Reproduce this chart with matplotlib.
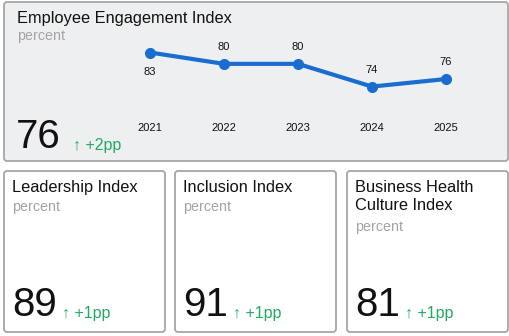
import matplotlib.pyplot as plt
from matplotlib.patches import FancyBboxPatch

plt.rcParams['font.family'] = ['Liberation Sans', 'DejaVu Sans']

# data
years = ['2021', '2022', '2023', '2024', '2025']
engagement = [83, 80, 80, 74, 76]
label_below = [True, False, False, False, False]

main_title = 'Employee Engagement Index'
main_value = '76'
main_delta = '\u2191 +2pp'

card_titles = ['Leadership Index', 'Inclusion Index', 'Business Health\nCulture Index']
card_values = ['89', '91', '81']
card_deltas = ['\u2191 +1pp', '\u2191 +1pp', '\u2191 +1pp']

W, H = 510, 336
fig = plt.figure(figsize=(W / 100, H / 100), dpi=100)
bg = fig.add_axes([0, 0, 1, 1])
bg.set_xlim(0, W)
bg.set_ylim(H, 0)
bg.axis('off')

green = '#22a862'
grey_txt = '#a3a3a3'
border = '#a6a6a6'


def card(x0, y0, x1, y1, fill):
    p = FancyBboxPatch((x0, y0), x1 - x0, y1 - y0,
                       boxstyle='round,pad=0,rounding_size=3',
                       fc=fill, ec=border, lw=1.3)
    bg.add_patch(p)


# top card
card(4, 2, 508, 161, '#eeeff1')
bg.text(17, 18, main_title, fontsize=11.8, va='center', ha='left', color='#111111')
bg.text(17, 36, 'percent', fontsize=10.3, va='center', ha='left', color=grey_txt)
bg.text(16, 148, main_value, fontsize=29, va='baseline', ha='left', color='#111111')
bg.text(73, 150, main_delta, fontsize=11.5, va='baseline', ha='left', color=green)

# line chart inside top card
ax = fig.add_axes([113 / W, 1 - 115 / H, 370 / W, 75 / H])
ax.patch.set_alpha(0)
xs = range(len(years))
ax.plot(xs, engagement, color='#1a6dd0', lw=3, marker='o', ms=7, zorder=3)
for x, v, below in zip(xs, engagement, label_below):
    if below:
        ax.annotate(str(v), (x, v), xytext=(0, -14), textcoords='offset points',
                    ha='center', va='center', fontsize=8, color='#111111')
    else:
        ax.annotate(str(v), (x, v), xytext=(0, 12), textcoords='offset points',
                    ha='center', va='center', fontsize=8, color='#111111')
ax.set_xlim(-0.5, 4.5)
ax.set_ylim(66.5, 86.3)
ax.set_xticks(list(xs))
ax.set_xticklabels(years, fontsize=8, color='#111111')
ax.tick_params(axis='x', length=0, pad=6)
ax.set_yticks([])
for s in ax.spines.values():
    s.set_visible(False)

# bottom cards
lefts = [4, 175, 347]
width = 161
for x0, t, v, d in zip(lefts, card_titles, card_values, card_deltas):
    card(x0, 171, x0 + width, 332, 'white')
    nlines = t.count('\n') + 1
    bg.text(x0 + 8, 180, t, fontsize=11.8, va='top', ha='left', color='#111111',
            linespacing=1.22)
    bg.text(x0 + 8, 187 + 20 * nlines, 'percent', fontsize=10.3, va='center',
            ha='left', color=grey_txt)
    bg.text(x0 + 8, 316, v, fontsize=29, va='baseline', ha='left', color='#111111')
    bg.text(x0 + 58, 318, d, fontsize=11.5, va='baseline', ha='left', color=green)

fig.savefig('out.png', dpi=100)
